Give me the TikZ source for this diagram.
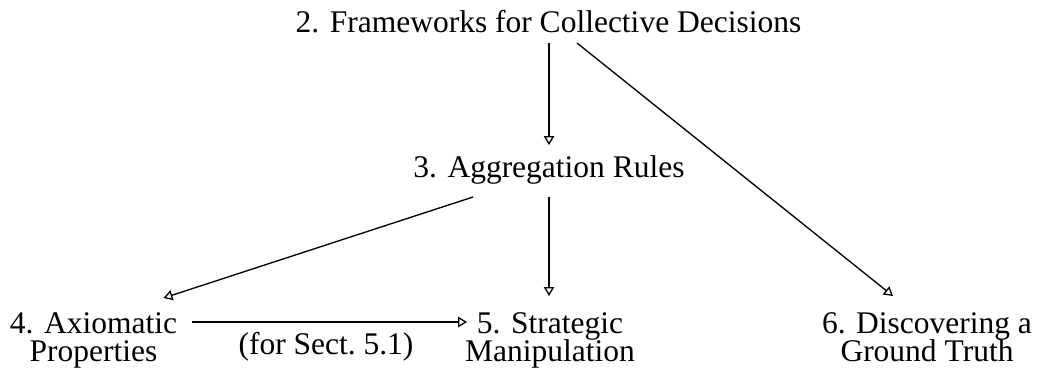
\documentclass[tikz,border=0pt]{standalone}
\usepackage{fontspec}
\setmainfont{Liberation Serif}
\usetikzlibrary{arrows.meta}
\newcommand\twolines[2]{\vtop{\baselineskip=8.4pt\lineskiplimit=-20pt\lineskip=0pt\halign{\hfil##\hfil\cr #1\cr #2\cr}}}
\begin{document}
\begin{tikzpicture}[x=0.3pt,y=-0.3pt,
  every node/.style={inner sep=0pt, outer sep=0pt, anchor=base, font=\fontsize{9.45}{8.4}\selectfont},
  arr/.style={-{Triangle[open,length=2.7pt,width=3.1pt]}, line width=0.4pt}]
\useasboundingbox (0,0) rectangle (1038,370);
\node (n2) at (548.5,32) {2. Frameworks for Collective Decisions};
\node (n3) at (549,177) {3. Aggregation Rules};
\node (n4) at (93.5,333) {\twolines{4. Axiomatic}{Properties}};
\node (n5) at (550,333) {\twolines{5. Strategic}{Manipulation}};
\node (n6) at (927,333) {\twolines{6. Discovering a}{Ground Truth}};
\node (lab) at (326,354) {(for Sect.\ 5.1)};
% 2 -> 3
\draw[arr] ([yshift=-3.3pt]n2.base -| n3) -- ([yshift=9.6pt]n3.base);
% 2 -> 6
\draw[arr] ([xshift=8.55pt,yshift=-3.3pt]n2.base) -- ([xshift=-10.2pt,yshift=11.1pt]n6.base);
% 3 -> 4
\draw[arr] ([xshift=-22.8pt,yshift=-6pt]n3.base) -- ([xshift=21pt,yshift=10.5pt]n4.base);
% 3 -> 5
\draw[arr] ([yshift=-6pt]n3.base) -- ([yshift=11.1pt]n3.base |- n5.base);
% 4 -> 5
\draw[arr] ([xshift=4.5pt,yshift=3.3pt]n4.base east) -- ([xshift=0.6pt,yshift=3.3pt]n5.base west);
\end{tikzpicture}
\end{document}
